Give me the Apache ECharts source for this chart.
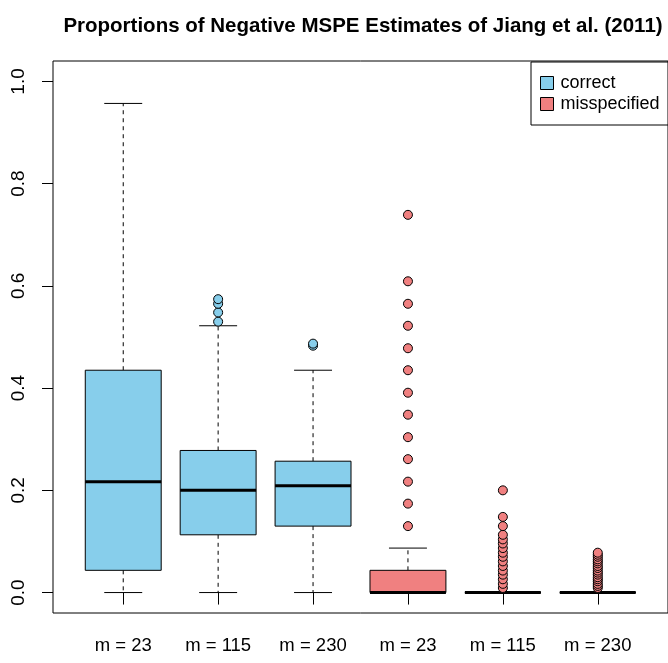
<!DOCTYPE html>
<html>
<head>
<meta charset="utf-8">
<script src="https://cdn.jsdelivr.net/npm/echarts@6/dist/echarts.min.js"></script>
<style>
  html, body { margin: 0; padding: 0; background: #fff; }
  #chart { width: 668px; height: 663px; }
</style>
</head>
<body>
<div id="chart"></div>
<script>
// Group labels along the x axis (one box per group)
const categories = ['m = 23', 'm = 115', 'm = 230', 'm = 23', 'm = 115', 'm = 230'];
const seriesNames = ['correct', 'misspecified'];
const yTicks = [0, 0.2, 0.4, 0.6, 0.8, 1.0];

// Five-number summaries per box: [lower whisker, Q1, median, Q3, upper whisker]
const correctStats = [
  [0, 0.0435, 0.217, 0.435, 0.957],
  [0, 0.113, 0.200, 0.278, 0.522],
  [0, 0.130, 0.209, 0.257, 0.435]
];
const misspecifiedStats = [
  [0, 0, 0, 0.0435, 0.087],
  [0, 0, 0, 0, 0],
  [0, 0, 0, 0, 0]
];

// Points beyond the whiskers
const correctOutliers = [
  [],
  [0.530, 0.548, 0.565, 0.574],
  [0.483, 0.487]
];
const misspecifiedOutliers = [
  [0.130, 0.174, 0.217, 0.261, 0.304, 0.348, 0.391, 0.435, 0.478, 0.522, 0.565, 0.609, 0.739],
  [0.009, 0.017, 0.026, 0.035, 0.043, 0.052, 0.061, 0.070, 0.078, 0.087, 0.096, 0.104, 0.113, 0.130, 0.148, 0.200],
  [0.009, 0.013, 0.017, 0.022, 0.026, 0.030, 0.035, 0.039, 0.043, 0.048, 0.052, 0.057, 0.061, 0.065, 0.070, 0.074, 0.078]
];

const colors = { correct: '#87CEEB', misspecified: '#F08080' };
const FONT = '"Liberation Sans", Arial, sans-serif';

// Box positions: 1..3 for the first group, 4..6 for the second
function boxData(stats, offset) {
  return stats.map((s, i) => [i + 1 + offset].concat(s));
}
function outlierData(outs, offset) {
  const pts = [];
  outs.forEach((arr, i) => arr.forEach(v => pts.push([i + 1 + offset, v])));
  return pts;
}

// R-style box: dashed whiskers, half-width staples, filled box, thick median
function renderBox(color) {
  return function (params, api) {
    const x = api.value(0);
    const lo = api.value(1), q1 = api.value(2), med = api.value(3), q3 = api.value(4), hi = api.value(5);
    const boxW = api.size([0.8, 0])[0];
    const capW = api.size([0.4, 0])[0];
    const cx = api.coord([x, 0])[0];
    const yLo = api.coord([x, lo])[1];
    const yQ1 = api.coord([x, q1])[1];
    const yMed = api.coord([x, med])[1];
    const yQ3 = api.coord([x, q3])[1];
    const yHi = api.coord([x, hi])[1];
    const dash = { stroke: '#000', lineWidth: 1, lineDash: [4, 4] };
    const solid = { stroke: '#000', lineWidth: 1 };
    return {
      type: 'group',
      children: [
        { type: 'line', shape: { x1: cx, y1: yQ3, x2: cx, y2: yHi }, style: dash },
        { type: 'line', shape: { x1: cx, y1: yQ1, x2: cx, y2: yLo }, style: dash },
        { type: 'line', shape: { x1: cx - capW / 2, y1: yHi, x2: cx + capW / 2, y2: yHi }, style: solid },
        { type: 'line', shape: { x1: cx - capW / 2, y1: yLo, x2: cx + capW / 2, y2: yLo }, style: solid },
        { type: 'rect', shape: { x: cx - boxW / 2, y: yQ3, width: boxW, height: yQ1 - yQ3 },
          style: { fill: color, stroke: '#000', lineWidth: 1 } },
        { type: 'line', shape: { x1: cx - boxW / 2, y1: yMed, x2: cx + boxW / 2, y2: yMed },
          style: { stroke: '#000', lineWidth: 3 } }
      ]
    };
  };
}

const chart = echarts.init(document.getElementById('chart'), null, { renderer: 'canvas' });

chart.setOption({
  animation: false,
  backgroundColor: '#fff',
  title: {
    text: 'Proportions of Negative MSPE Estimates of Jiang et al. (2011)',
    left: 358,
    top: 11,
    textAlign: 'center',
    textStyle: { fontFamily: FONT, fontSize: 20.5, fontWeight: 'bold', color: '#000' }
  },
  legend: {
    orient: 'vertical',
    left: 531,
    top: 62,
    padding: [12, 40, 12, 9],
    itemGap: 3,
    itemWidth: 13,
    itemHeight: 13,
    borderColor: '#000',
    borderWidth: 1,
    borderRadius: 0,
    icon: 'rect',
    data: seriesNames,
    textStyle: { fontFamily: FONT, fontSize: 18, color: '#000', padding: [0, 0, 0, 2] },
    itemStyle: { borderColor: '#000', borderWidth: 1 }
  },
  grid: {
    left: 53, top: 61, right: 0, bottom: 50,
    show: true, borderColor: '#000', borderWidth: 1, backgroundColor: 'transparent'
  },
  xAxis: {
    type: 'value',
    min: 0.26, max: 6.74,
    splitLine: { show: false },
    axisLine: { show: false },
    axisTick: { show: true, length: 12, lineStyle: { color: '#000' }, customValues: [1, 2, 3, 4, 5, 6] },
    axisLabel: {
      customValues: [1, 2, 3, 4, 5, 6],
      formatter: v => categories[Math.round(v) - 1],
      margin: 23,
      fontFamily: FONT, fontSize: 18.5, color: '#000'
    }
  },
  yAxis: {
    type: 'value',
    min: -0.04, max: 1.04,
    splitLine: { show: false },
    axisLine: { show: false },
    axisTick: { show: true, length: 11, lineStyle: { color: '#000' }, customValues: yTicks },
    axisLabel: {
      customValues: yTicks,
      formatter: v => v.toFixed(1),
      rotate: 90,
      margin: 25,
      fontFamily: FONT, fontSize: 19, color: '#000'
    }
  },
  series: [
    {
      name: 'correct', type: 'custom', renderItem: renderBox(colors.correct),
      itemStyle: { color: colors.correct },
      encode: { x: 0, y: [1, 2, 3, 4, 5] },
      data: boxData(correctStats, 0), z: 2
    },
    {
      name: 'misspecified', type: 'custom', renderItem: renderBox(colors.misspecified),
      itemStyle: { color: colors.misspecified },
      encode: { x: 0, y: [1, 2, 3, 4, 5] },
      data: boxData(misspecifiedStats, 3), z: 2
    },
    {
      name: 'correct', type: 'scatter', symbol: 'circle', symbolSize: 9,
      itemStyle: { color: colors.correct, borderColor: '#000', borderWidth: 1, opacity: 1 },
      data: outlierData(correctOutliers, 0), z: 3
    },
    {
      name: 'misspecified', type: 'scatter', symbol: 'circle', symbolSize: 9,
      itemStyle: { color: colors.misspecified, borderColor: '#000', borderWidth: 1, opacity: 1 },
      data: outlierData(misspecifiedOutliers, 3), z: 3
    }
  ]
});
</script>
</body>
</html>
